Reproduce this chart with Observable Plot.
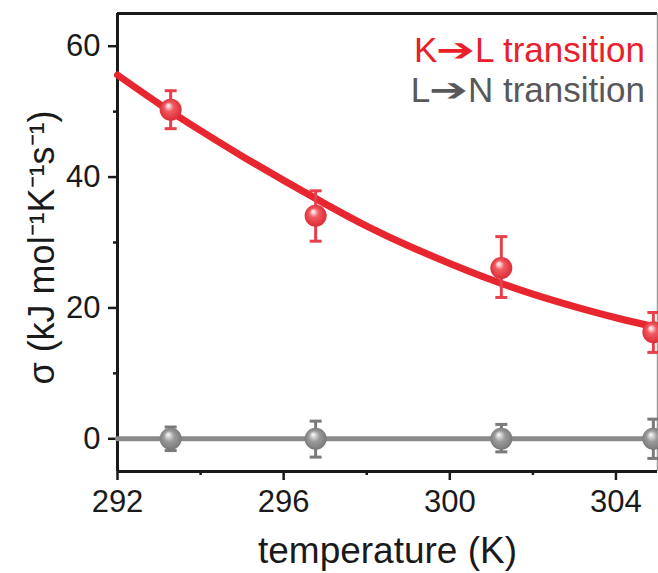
<!DOCTYPE html>
<html><head><meta charset="utf-8">
<script src="https://cdn.jsdelivr.net/npm/d3@7"></script>
<script src="https://cdn.jsdelivr.net/npm/@observablehq/plot@0.6"></script>
<style>
html,body{margin:0;padding:0;background:#fff;}
#wrap{position:relative;width:658px;height:573px;overflow:hidden;font-family:"Liberation Sans",Arial,sans-serif;}
#legend{position:absolute;right:13px;top:30px;text-align:right;font-size:35px;line-height:40px;white-space:nowrap;}
.arr{display:inline-block;transform:scaleX(1.45);font-family:"DejaVu Sans";font-size:32px;margin:0 6px 0 5px;vertical-align:1px;}
</style></head><body><div id="wrap"><div id="legend"></div></div>
<script>
// ---- data ----
const temperatures = [293.28, 296.77, 301.24, 304.9];
const klSigma = [50.3, 34.1, 26.1, 16.3];
const klErrHi = [53.2, 37.9, 30.9, 19.3];
const klErrLo = [47.4, 30.2, 21.6, 13.2];
const lnSigma = [0, 0, 0, 0];
const lnErrHi = [1.8, 2.7, 2.2, 3.0];
const lnErrLo = [-1.8, -2.8, -2.0, -3.0];
const klFitT = [292, 293, 294, 295, 296, 297, 298, 299, 300, 301, 302, 303, 304, 305];
const klFitSigma = [55.6, 51.2, 47.1, 43.2, 39.5, 35.9, 32.5, 29.5, 26.8, 24.3, 22.1, 20.2, 18.5, 17.0];
const lnFitT = [292, 305];
const lnFitSigma = [0, 0];
const xDomain = [292, 305];
const yDomain = [-5, 65];
const xTicks = [292, 296, 300, 304];
const xMinorTicks = [294, 298, 302];
const yTicks = [0, 20, 40, 60];
const yMinorTicks = [10, 30, 50];
const xTitle = "temperature (K)";
const yTitle = "σ (kJ mol⁻¹K⁻¹s⁻¹)";
const legendFrom = ["K", "L"];
const legendTo = ["L transition", "N transition"];
const legendColors = ["#e8202a", "#58585a"];

// ---- tables ----
const kl = temperatures.map((t, i) => ({t, s: klSigma[i], hi: klErrHi[i], lo: klErrLo[i]}));
const ln = temperatures.map((t, i) => ({t, s: lnSigma[i], hi: lnErrHi[i], lo: lnErrLo[i]}));
const klFit = klFitT.map((t, i) => ({t, s: klFitSigma[i]}));
const lnFit = lnFitT.map((t, i) => ({t, s: lnFitSigma[i]}));

const cap = {draw(ctx, size) { const w = Math.sqrt(size / Math.PI); ctx.moveTo(-w, 0); ctx.lineTo(w, 0); }};
const red = "#e8262f", gray = "#8a8a8a", black = "#1a1a1a";

const chart = Plot.plot({
  width: 658, height: 573,
  marginLeft: 117, marginRight: 1, marginTop: 13, marginBottom: 102,
  style: {fontFamily: '"Liberation Sans", Arial, sans-serif', background: "transparent", color: black},
  x: {domain: xDomain},
  y: {domain: yDomain},
  marks: [
    Plot.axisX({ticks: xTicks, tickSize: 9, tickPadding: 9, fontSize: 31, strokeWidth: 2.5, label: null, tickFormat: d => String(d)}),
    Plot.axisX({ticks: xMinorTicks, tickSize: 4, strokeWidth: 2.5, label: null, tickFormat: () => ""}),
    Plot.axisY({ticks: yTicks, tickSize: 9, tickPadding: 8, fontSize: 31, strokeWidth: 2.5, label: null, tickFormat: d => String(d)}),
    Plot.axisY({ticks: yMinorTicks, tickSize: 4, strokeWidth: 2.5, label: null, tickFormat: () => ""}),
    // frame
    Plot.ruleY([yDomain[1]], {stroke: black, strokeWidth: 3}),
    Plot.ruleX([xDomain[1]], {stroke: "#9a9a9a", strokeWidth: 1.5}),
    Plot.ruleX([xDomain[0]], {stroke: black, strokeWidth: 3}),
    Plot.ruleY([yDomain[0]], {stroke: black, strokeWidth: 3}),
    // L->N series
    Plot.line(lnFit, {x: "t", y: "s", stroke: gray, strokeWidth: 5}),
    Plot.ruleX(ln, {x: "t", y1: "lo", y2: "hi", stroke: "#7a7a7a", strokeWidth: 3}),
    Plot.dot(ln, {x: "t", y: "hi", symbol: cap, r: 6, stroke: "#7a7a7a", strokeWidth: 3}),
    Plot.dot(ln, {x: "t", y: "lo", symbol: cap, r: 6, stroke: "#7a7a7a", strokeWidth: 3}),
    Plot.dot(ln, {x: "t", y: "s", r: 11, fill: "url(#grayBall)", stroke: null}),
    // K->L series
    Plot.line(klFit, {x: "t", y: "s", stroke: red, strokeWidth: 7, curve: "natural"}),
    Plot.ruleX(kl, {x: "t", y1: "lo", y2: "hi", stroke: "#e8404a", strokeWidth: 3}),
    Plot.dot(kl, {x: "t", y: "hi", symbol: cap, r: 6, stroke: "#e8404a", strokeWidth: 3}),
    Plot.dot(kl, {x: "t", y: "lo", symbol: cap, r: 6, stroke: "#e8404a", strokeWidth: 3}),
    Plot.dot(kl, {x: "t", y: "s", r: 11, fill: "url(#redBall)", stroke: null}),
    // axis titles
    Plot.text([xTitle], {text: d => d, frameAnchor: "bottom", dy: 80, fontSize: 37, lineAnchor: "middle", textAnchor: "middle", fill: black}),
    Plot.text([yTitle], {text: d => d, frameAnchor: "left", rotate: -90, dx: -89, dy: 5, fontSize: 36, lineAnchor: "top", textAnchor: "middle", fill: black})
  ]
});

const svg = chart.tagName.toLowerCase() === "svg" ? chart : chart.querySelector("svg");
const defs = d3.select(svg).insert("defs", ":first-child");
function ball(id, stops) {
  const g = defs.append("radialGradient").attr("id", id)
    .attr("cx", 0.5).attr("cy", 0.5).attr("r", 0.55).attr("fx", 0.38).attr("fy", 0.3);
  stops.forEach(([o, c]) => g.append("stop").attr("offset", o).attr("stop-color", c));
}
ball("redBall", [[0, "#ffffff"], [0.12, "#fbd3d6"], [0.38, "#ef5c63"], [0.75, "#e63a43"], [1, "#d42c35"]]);
ball("grayBall", [[0, "#ffffff"], [0.15, "#dcdcdc"], [0.45, "#9a9a9a"], [0.8, "#838383"], [1, "#6e6e6e"]]);

const wrap = document.getElementById("wrap");
wrap.insertBefore(chart, wrap.firstChild);

const legend = document.getElementById("legend");
legendFrom.forEach((a, i) => {
  const row = document.createElement("div");
  row.style.color = legendColors[i];
  const s1 = document.createElement("span"); s1.textContent = a;
  const s2 = document.createElement("span"); s2.className = "arr"; s2.textContent = "➔";
  const s3 = document.createElement("span"); s3.textContent = legendTo[i];
  row.append(s1, s2, s3);
  legend.appendChild(row);
});
</script></body></html>
